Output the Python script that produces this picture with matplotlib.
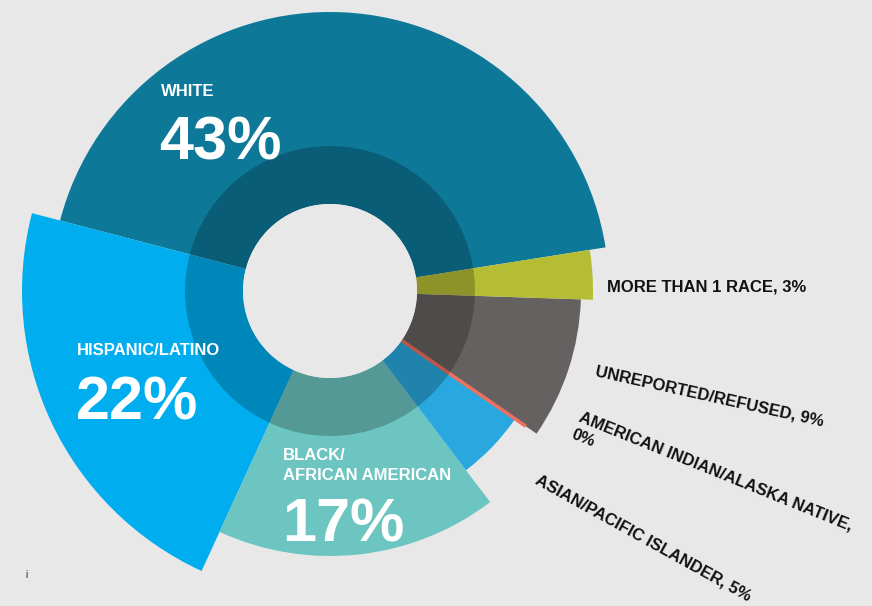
import numpy as np
import matplotlib
matplotlib.use("Agg")
import matplotlib.pyplot as plt
from matplotlib.patches import Wedge, Circle

# Shares by race / ethnicity (percent)
categories = ["WHITE", "HISPANIC/LATINO", "BLACK/\nAFRICAN AMERICAN",
              "ASIAN/PACIFIC ISLANDER", "AMERICAN INDIAN/ALASKA NATIVE",
              "UNREPORTED/REFUSED", "MORE THAN 1 RACE"]
shares = [43, 22, 17, 5, 0, 9, 3]

# Styling: outer radius of each slice (px), colours
outer_radius = [279, 308, 265, 225, 238, 251, 263]
colors = ["#0E7899", "#00AEEF", "#6CC5C0", "#29A8E0", "#F07060", "#666161", "#B5BD35"]

W, H = 872, 606
fig = plt.figure(figsize=(W / 100, H / 100), dpi=100)
bg = "#E8E8E8"
fig.patch.set_facecolor(bg)
ax = fig.add_axes([0, 0, 1, 1])
ax.set_xlim(0, W)
ax.set_ylim(0, H)
ax.set_aspect("equal")
ax.axis("off")

cx, cy = 330, H - 291
hole_r = 87
ring_r = 145
start_angle = 9.0

total = float(sum(shares))
angle = start_angle
for share, r, c in zip(shares, outer_radius, colors):
    span = 360.0 * share / total
    if span > 0:
        ax.add_patch(Wedge((cx, cy), r, angle, angle + span, width=r - hole_r,
                           facecolor=c, edgecolor="none", zorder=2))
    else:
        # a zero share is shown as a thin coloured spoke
        t = np.deg2rad(angle)
        ax.plot([cx + hole_r * np.cos(t), cx + r * np.cos(t)],
                [cy + hole_r * np.sin(t), cy + r * np.sin(t)],
                color=c, lw=2.5, solid_capstyle="butt", zorder=3)
    angle += span

# darker translucent inner band and the empty centre
ax.add_patch(Wedge((cx, cy), ring_r, 0, 360, width=ring_r - hole_r,
                   facecolor="black", alpha=0.22, edgecolor="none", zorder=4))
ax.add_patch(Circle((cx, cy), hole_r, facecolor=bg, edgecolor="none", zorder=5))

font = "Liberation Sans"
name_style = dict(color="white", fontsize=12, fontweight="bold", family=font,
                  va="baseline", ha="left", zorder=6)
pct_style = dict(color="white", fontsize=44, fontweight="bold", family=font,
                 va="baseline", ha="left", zorder=6)

ax.text(161, H - 96, categories[0], **name_style)
ax.text(159, H - 160, f"{shares[0]}%", **pct_style)

ax.text(77, H - 355, categories[1], **name_style)
ax.text(76, H - 420, f"{shares[1]}%", **pct_style)

black_lines = categories[2].split("\n")
ax.text(283, H - 460, black_lines[0], **name_style)
ax.text(283, H - 480, black_lines[1], **name_style)
ax.text(282, H - 542, f"{shares[2]}%", **pct_style)

small = dict(color="#111111", fontsize=12, fontweight="bold", family=font,
             ha="left", va="baseline", zorder=6, rotation_mode="anchor")
ax.text(607, H - 291, f"{categories[6]}, {shares[6]}%", **small)
ax.text(595, H - 376, f"{categories[5]}, {shares[5]}%", rotation=-12.5, **small)
ax.text(572, H - 435, f"{categories[4]},\n{shares[4]}%", rotation=-22,
        linespacing=1.3, **small)
ax.text(534, H - 483, f"{categories[3]}, {shares[3]}%", rotation=-29, **small)

# small stray mark near the lower-left corner
ax.text(26, H - 578, "i", color="#222222", fontsize=7, family=font,
        ha="center", va="baseline", zorder=6)

fig.savefig("out.png", dpi=100, facecolor=bg)
